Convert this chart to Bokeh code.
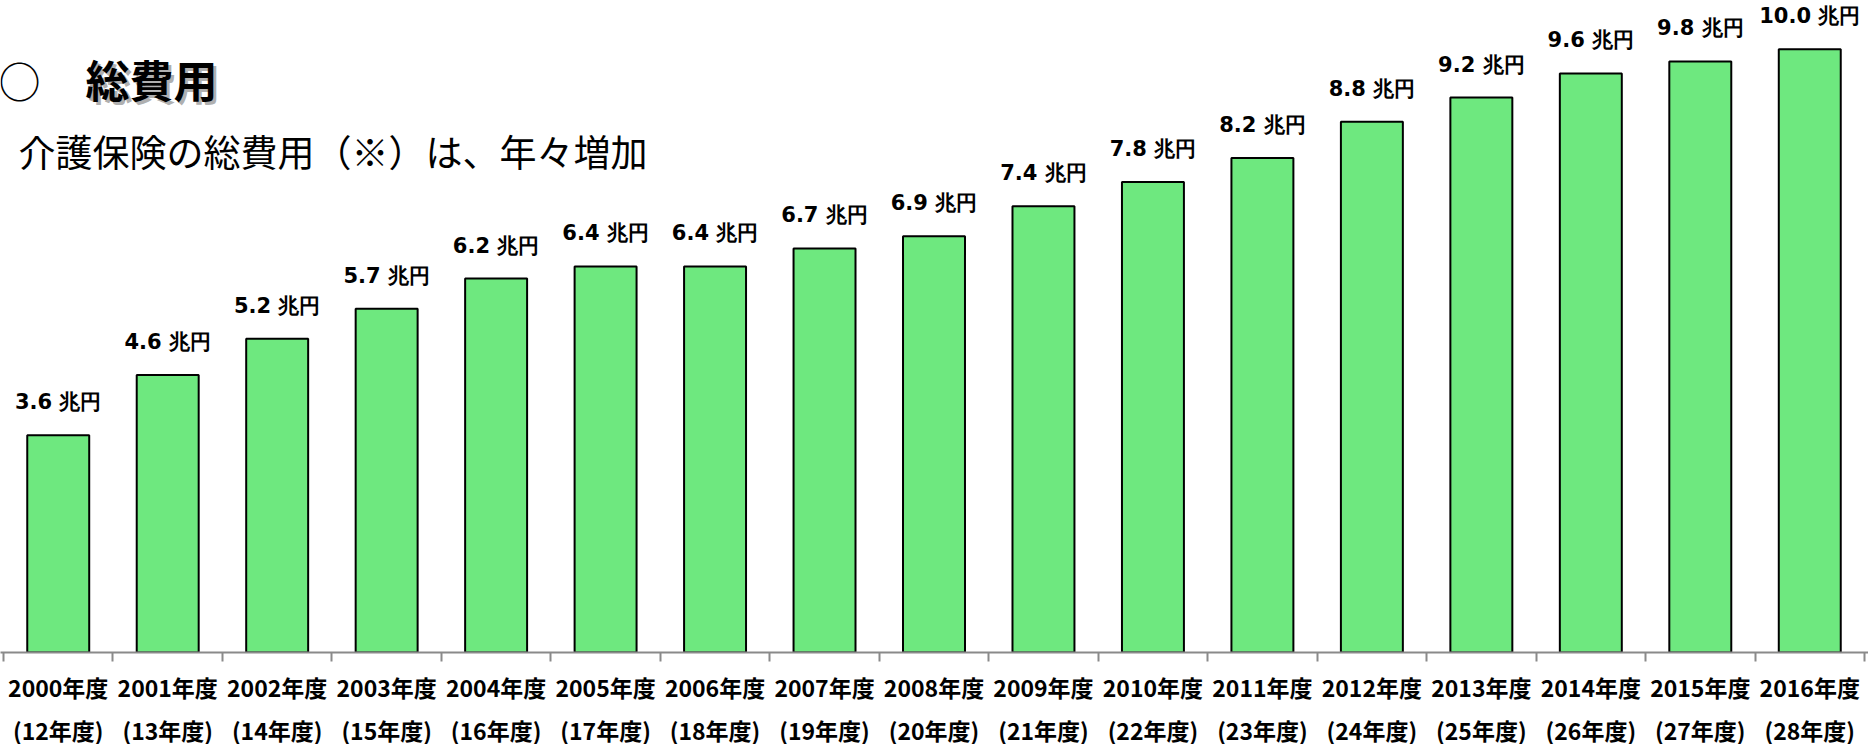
from bokeh.plotting import figure
from bokeh.models import Range1d, FixedTicker, LinearAxis, Label, ColumnDataSource
from bokeh.core.properties import value
from bokeh.embed import file_html
from bokeh.resources import INLINE

# ---- data ----
fiscal_years = ["2000年度", "2001年度", "2002年度", "2003年度", "2004年度", "2005年度",
                "2006年度", "2007年度", "2008年度", "2009年度", "2010年度", "2011年度",
                "2012年度", "2013年度", "2014年度", "2015年度", "2016年度"]
heisei_years = ["(12年度)", "(13年度)", "(14年度)", "(15年度)", "(16年度)", "(17年度)",
                "(18年度)", "(19年度)", "(20年度)", "(21年度)", "(22年度)", "(23年度)",
                "(24年度)", "(25年度)", "(26年度)", "(27年度)", "(28年度)"]
total_cost = [3.6, 4.6, 5.2, 5.7, 6.2, 6.4, 6.4, 6.7, 6.9, 7.4, 7.8, 8.2, 8.8, 9.2, 9.6, 9.8, 10.0]
unit = "兆円"
title_text = "総費用"
subtitle_text = "介護保険の総費用（※）は、年々増加"

n = len(total_cost)
centers = [i + 0.5 for i in range(n)]
bounds = [float(i) for i in range(n + 1)]
value_labels = [f"{v:.1f} {unit}" for v in total_cost]

CANVAS_W = 1868
FRAME_H = 652
LEFT_PAD, RIGHT_PAD = 3, 4
Y_END = 10.81
x_px = (CANVAS_W - LEFT_PAD - RIGHT_PAD) / n
y_px = FRAME_H / Y_END

def dx(sx):
    return (sx - LEFT_PAD) / x_px

def dy(sy):
    return (FRAME_H - sy) / y_px

src = ColumnDataSource(dict(x=centers, cost=total_cost, label=value_labels))

p = figure(frame_width=CANVAS_W, frame_height=FRAME_H,
           x_range=Range1d(dx(0), dx(CANVAS_W)), y_range=Range1d(0, Y_END),
           output_backend="svg", toolbar_location=None,
           min_border_left=0, min_border_right=0, min_border_top=0, min_border_bottom=92,
           x_axis_location=None, y_axis_location=None,
           background_fill_color="white", border_fill_color="white")
p.outline_line_color = None
p.xgrid.visible = False
p.ygrid.visible = False

p.vbar(x="x", top="cost", width=0.566, bottom=0, source=src,
       fill_color="#6EE87F", line_color="black", line_width=2)

p.text(x="x", y="cost", text="label", source=src, y_offset=-33,
       text_align="center", text_baseline="middle",
       text_font=value("DejaVu Sans"), text_font_style="bold",
       text_font_size="21px", text_color="black")

# axis with boundary ticks + first label line
ax1 = LinearAxis(ticker=FixedTicker(ticks=centers, minor_ticks=bounds), fixed_location=None)
ax1.major_label_overrides = {c: t for c, t in zip(centers, fiscal_years)}
ax1.axis_line_color = "#8a8a8a"
ax1.axis_line_width = 2
ax1.major_tick_line_color = None
ax1.major_tick_out = 0
ax1.major_tick_in = 0
ax1.minor_tick_line_color = "#8a8a8a"
ax1.minor_tick_line_width = 2
ax1.minor_tick_out = 9
ax1.minor_tick_in = 0
ax1.major_label_standoff = 8
ax1.major_label_text_font = "Noto Sans CJK JP"
ax1.major_label_text_font_style = "bold"
ax1.major_label_text_font_size = "23px"
ax1.major_label_text_color = "black"
p.add_layout(ax1, "below")

ax2 = LinearAxis(ticker=FixedTicker(ticks=centers, minor_ticks=[]))
ax2.major_label_overrides = {c: t for c, t in zip(centers, heisei_years)}
ax2.axis_line_color = None
ax2.major_tick_line_color = None
ax2.minor_tick_line_color = None
ax2.major_tick_out = 0
ax2.major_tick_in = 0
ax2.major_label_standoff = 6
ax2.major_label_text_font = "Noto Sans CJK JP"
ax2.major_label_text_font_style = "bold"
ax2.major_label_text_font_size = "23px"
ax2.major_label_text_color = "black"
p.add_layout(ax2, "below")

# heading
p.add_layout(Label(x=dx(-2), y=dy(79), text="○", text_align="left", text_baseline="middle",
                   text_font="Noto Sans CJK JP", text_font_size="42px", text_color="black"))
p.add_layout(Label(x=dx(88), y=dy(81), text=title_text, text_align="left", text_baseline="middle",
                   text_font="Noto Sans CJK JP", text_font_style="bold", text_font_size="44px",
                   text_color="#9a9a9a", text_alpha=0.8))
p.add_layout(Label(x=dx(85), y=dy(78), text=title_text, text_align="left", text_baseline="middle",
                   text_font="Noto Sans CJK JP", text_font_style="bold", text_font_size="44px",
                   text_color="black"))
p.add_layout(Label(x=dx(18), y=dy(150), text=subtitle_text, text_align="left", text_baseline="middle",
                   text_font="Noto Sans CJK JP", text_font_size="37px", text_color="black"))

open("out.html", "w").write(file_html(p, INLINE))
